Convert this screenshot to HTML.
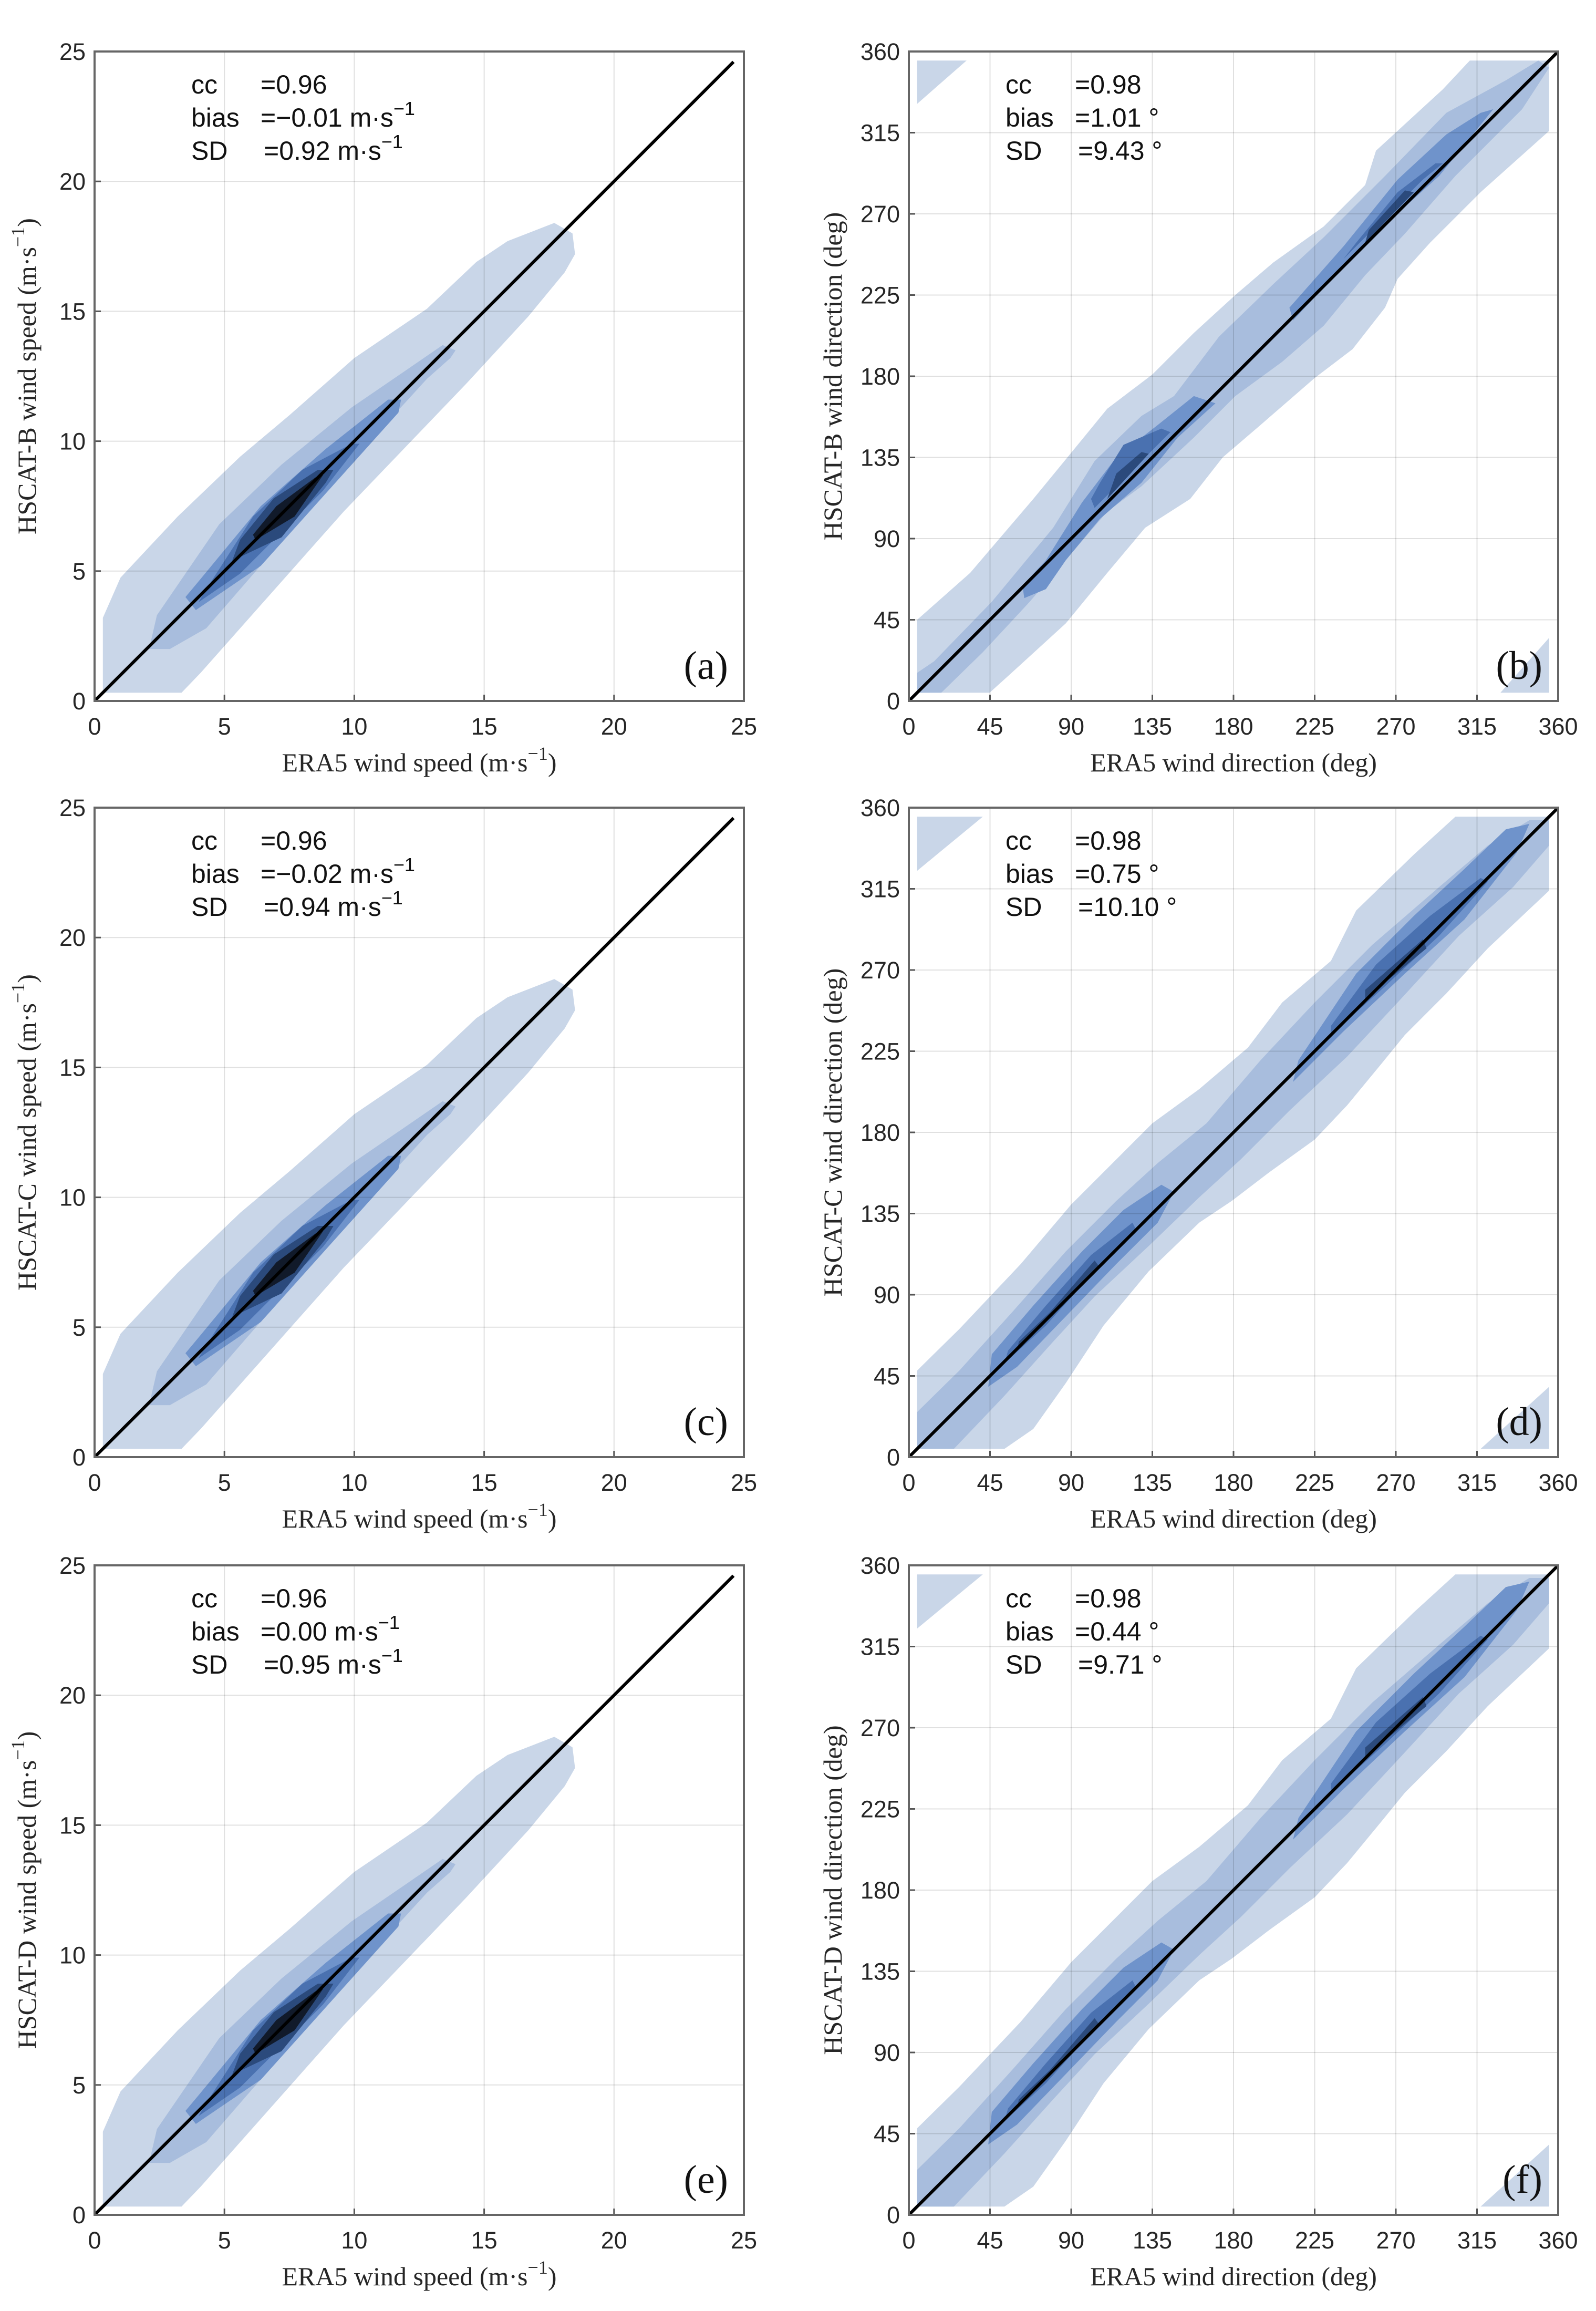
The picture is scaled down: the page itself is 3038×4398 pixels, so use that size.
<!DOCTYPE html>
<html><head><meta charset="utf-8"><style>
html,body{margin:0;padding:0;background:#fff;}
svg{display:block;}
</style></head><body>
<svg id="fig" xmlns="http://www.w3.org/2000/svg" width="3038" height="4398" viewBox="0 0 3038 4398"></svg>
<script>
// ---- data ----
const speedTicks = [0,5,10,15,20,25];
const dirTicks = [0,45,90,135,180,225,270,315,360];
const panelLetters = ['a','b','c','d','e','f'];
const satellites = ['HSCAT-B','HSCAT-B','HSCAT-C','HSCAT-C','HSCAT-D','HSCAT-D'];
const ccValues = ['0.96','0.98','0.96','0.98','0.96','0.98'];
const biasValues = ['\u22120.01','1.01','\u22120.02','0.75','0.00','0.44'];
const sdValues = ['0.92','9.43','0.94','10.10','0.95','9.71'];
const levelColors = ['#c9d6e8','#a8bddd','#6f93cb','#4a71b0','#2b4a7c','#111a2a'];
// speed density contours (ERA5, HSCAT)
const speedLevel1 = [[0.32,0.32],[3.35,0.32],[4.1,1.1],[9.6,7.3],[14.3,12.2],[16.7,14.8],[18.1,16.5],[18.5,17.2],[18.4,18],[17.7,18.4],[15.9,17.7],[14.7,16.9],[12.8,15.1],[10,13.2],[7.5,11],[5.6,9.4],[3.2,7.1],[1,4.75],[0.32,3.2]];
const speedLevel2 = [[2.1,2.0],[2.9,2.0],[4.3,2.8],[9.6,8.9],[12.8,12.4],[13.7,13.2],[13.9,13.5],[13.4,13.7],[11.8,12.6],[9.9,11.3],[7.2,9.1],[4.8,6.8],[2.4,3.3]];
const speedLevel3 = [[3.5,4.0],[3.9,3.5],[6.4,5.2],[9.9,9.1],[11.7,11.1],[11.8,11.6],[11.3,11.6],[8.9,9.7],[6.4,7.5],[4,4.6]];
const speedLevel4 = [[4.0,3.8],[5.6,4.9],[8.8,8.1],[10.2,9.9],[9.9,9.9],[8,8.9],[6.1,7.1],[4.3,4.3]];
const speedLevel5 = [[5.3,5.4],[7.2,6.3],[8.9,8.4],[9.2,8.9],[8.6,8.9],[6.9,7.8],[5.6,6.2]];
const speedLevel6 = [[6.2,6.2],[7.7,7.1],[8.8,8.7],[8.5,8.6],[7,7.5],[6.1,6.4]];
// direction contours, panel (b)
const dirBLevel1 = [[4.6,4.6],[44.8,4.6],[57,15.6],[87,43],[110,71],[131,96],[156,112],[174,135],[195,153],[225,179],[246,195],[264,218],[271,234],[289,254],[317,282],[355,316],[355,355],[311,355],[296,339],[259,305],[253,286],[230,263],[202,243],[181,225],[158,204],[135,181],[110,162],[92,140],[69,112],[34,71],[4.6,45]];
const dirBLevel2 = [[4.6,4.6],[18,4.6],[41,27],[67,55],[92,84],[110,105],[129,119],[158,146],[181,169],[207,188],[230,208],[253,236],[275,259],[303,291],[340,328],[355,351],[349,355],[331,344],[298,326],[264,291],[230,257],[202,231],[172,202],[147,169],[129,158],[103,133],[80,96],[46,55],[14,22],[4.6,15.6]];
const dirBLevel3a = [[64,57],[76,62],[87,78],[106,101],[129,121],[149,146],[170,165],[158,169],[138,153],[115,135],[96,110],[76,78],[63,64]];
const dirBLevel3b = [[213,211],[241,241],[264,264],[294,291],[324,328],[317,326],[298,314],[271,289],[241,252],[211,218]];
const dirBLevel4a = [[103,107],[124,128],[145,149],[140,151],[119,142],[106,121],[101,112]];
const dirBLevel4b = [[241,245],[264,268],[285,289],[296,298],[292,298],[271,282],[248,254]];
const dirBLevel5a = [[110,112],[133,137],[129,138],[115,126]];
const dirBLevel5b = [[253,254],[280,282],[275,283],[255,261]];
const cornerULb = [[4.6,355],[32,355],[4.6,331]];
const cornerLRb = [[355,4.6],[355,35],[328,4.6]];
// direction contours, panels (d),(f)
const dirDLevel1 = [[4.6,4.6],[53,4.6],[69,15.6],[87,41],[108,73],[133,103],[161,130],[179,142],[200,158],[225,176],[243,195],[262,218],[275,234],[298,257],[321,282],[355,314],[355,355],[303,355],[280,334],[248,303],[234,275],[207,252],[188,227],[161,204],[135,185],[115,165],[90,140],[62,107],[28,71],[4.6,48]];
const dirDLevel2 = [[4.6,4.6],[25,4.6],[53,34],[80,64],[103,89],[133,117],[161,144],[184,165],[211,192],[243,222],[271,252],[305,289],[335,316],[355,339],[355,353],[344,353],[321,339],[294,316],[257,284],[225,252],[195,220],[165,185],[138,163],[115,142],[87,114],[57,80],[28,48],[4.6,25]];
const dirDLevel3a = [[44,39],[60,50],[87,78],[115,107],[138,130],[147,147],[140,151],[119,137],[96,114],[69,84],[46,57]];
const dirDLevel3b = [[213,208],[241,236],[275,268],[308,298],[337,335],[344,351],[331,348],[308,326],[280,300],[248,268],[216,220]];
const dirDLevel4a = [[53,52],[76,73],[103,103],[126,126],[124,130],[101,112],[76,84],[55,59]];
const dirDLevel4b = [[234,234],[264,261],[294,289],[321,319],[317,321],[289,300],[259,273],[234,239]];
const dirDLevel5a = [[60,59],[76,75],[106,105],[103,109],[78,80],[61,64]];
const dirDLevel5b = [[253,254],[287,282],[285,287],[253,259]];
const cornerULd = [[4.6,355],[41,355],[4.6,325]];
const cornerLRd = [[355,4.6],[355,39],[317,4.6]];

// ---- drawing ----
const NS='http://www.w3.org/2000/svg';
const svg=document.getElementById('fig');
function mk(tag,attrs,parent){const e=document.createElementNS(NS,tag);for(const k in attrs)e.setAttribute(k,attrs[k]);(parent||svg).appendChild(e);return e;}
const W=1236,H=1236;
const colX=[180,1730], rowY=[98,1537,2979];
const TXT='#262626';

for(let p=0;p<6;p++){
  const col=p%2,row=Math.floor(p/2);
  const X0=colX[col],Y0=rowY[row];
  const isDir=col===1; const maxV=isDir?360:25; const ticks=isDir?dirTicks:speedTicks;
  const sx=v=>X0+v/maxV*W, sy=v=>Y0+H-v/maxV*H;
  const g=mk('g',{});
  
  
  const bg=mk('rect',{x:X0,y:Y0,width:W,height:H,fill:'#fff'},g);
  
  
  let layers;
  if(!isDir) layers=[[speedLevel1,0],[speedLevel2,1],[speedLevel3,2],[speedLevel4,3],[speedLevel5,4],[speedLevel6,5]];
  else if(p===1) layers=[[dirBLevel1,0],[cornerULb,0],[cornerLRb,0],[dirBLevel2,1],[dirBLevel3a,2],[dirBLevel3b,2],[dirBLevel4a,3],[dirBLevel4b,3],[dirBLevel5a,4],[dirBLevel5b,4]];
  else layers=[[dirDLevel1,0],[cornerULd,0],[cornerLRd,0],[dirDLevel2,1],[dirDLevel3a,2],[dirDLevel3b,2],[dirDLevel4a,3],[dirDLevel4b,3],[dirDLevel5a,4],[dirDLevel5b,4]];
  layers.forEach(([pts,lv])=>{
    const poly=mk('polygon',{points:pts.map(q=>sx(q[0]).toFixed(1)+','+sy(q[1]).toFixed(1)).join(' '),fill:levelColors[lv]},g);
    
    
  });
  ticks.forEach(t=>{
    if(t>0&&t<maxV){
      const gx=mk('line',{x1:sx(t),x2:sx(t),y1:Y0,y2:Y0+H,stroke:'#000','stroke-opacity':0.12,'stroke-width':2},g);
      
      
      const gy=mk('line',{x1:X0,x2:X0+W,y1:sy(t),y2:sy(t),stroke:'#000','stroke-opacity':0.12,'stroke-width':2},g);
      
      
    }
    mk('line',{x1:sx(t),x2:sx(t),y1:Y0+H,y2:Y0+H-12,stroke:'#555','stroke-width':3},g);
    mk('line',{x1:X0,x2:X0+12,y1:sy(t),y2:sy(t),stroke:'#555','stroke-width':3},g);
    const xl=mk('text',{x:sx(t),y:Y0+H+64,'text-anchor':'middle','font-family':'Liberation Sans, sans-serif','font-size':45,fill:TXT},g);
    xl.textContent=t;
    
    
    const yl=mk('text',{x:X0-17,y:sy(t)+16,'text-anchor':'end','font-family':'Liberation Sans, sans-serif','font-size':45,fill:TXT},g);
    yl.textContent=t;
    
    
  });
  const ll=mk('line',{x1:sx(0),y1:sy(0),x2:sx(isDir?360:24.6),y2:sy(isDir?360:24.6),stroke:'#000','stroke-width':6},g);
  
  
  const fr=mk('rect',{x:X0,y:Y0,width:W,height:H,fill:'none',stroke:'#666','stroke-width':4},g);
  
  
  const ax=X0+184, ex=X0+316;
  const labels=['cc','bias','SD'];
  const vals=[ccValues[p],biasValues[p],sdValues[p]];
  labels.forEach((lab,i)=>{
    const by=Y0+80+i*63;
    const t1=mk('text',{x:ax,y:by,'font-family':'Liberation Sans, sans-serif','font-size':50,fill:'#111'},g);
    t1.textContent=lab;
    
    
    const t2=mk('text',{x:ex+(i===2?6:0),y:by,'font-family':'Liberation Sans, sans-serif','font-size':50,fill:'#111'},g);
    
    
    if(i===0) t2.textContent='='+vals[i];
    else if(isDir){t2.textContent='='+vals[i]+' \u00B0';}
    else{
      t2.textContent='='+vals[i]+' m\u00B7s';
      const sp=mk('tspan',{'font-size':36,dy:-22},t2); sp.textContent='\u22121';
    }
  });
  const pl=mk('text',{x:X0+W-30,y:Y0+H-42,'text-anchor':'end','font-family':'Liberation Serif, serif','font-size':76,fill:'#111'},g);
  pl.textContent='('+panelLetters[p]+')';
  
  
  const xt=mk('text',{x:X0+W/2,y:Y0+H+134,'text-anchor':'middle','font-family':'Liberation Serif, serif','font-size':50,fill:TXT},g);
  
  
  const ycx=X0-(isDir?128:112), ycy=Y0+H/2;
  const yt=mk('text',{x:ycx,y:ycy,'text-anchor':'middle','font-family':'Liberation Serif, serif','font-size':50,fill:TXT,transform:'rotate(-90 '+ycx+' '+ycy+')'},g);
  
  
  if(isDir){
    xt.textContent='ERA5 wind direction (deg)';
    yt.textContent=satellites[p]+' wind direction (deg)';
  } else {
    xt.textContent='ERA5 wind speed (m\u00B7s';
    let s=mk('tspan',{'font-size':36,dy:-22},xt); s.textContent='\u22121';
    s=mk('tspan',{dy:22},xt); s.textContent=')';
    yt.textContent=satellites[p]+' wind speed (m\u00B7s';
    s=mk('tspan',{'font-size':36,dy:-22},yt); s.textContent='\u22121';
    s=mk('tspan',{dy:22},yt); s.textContent=')';
  }
}
</script>
</body></html>
